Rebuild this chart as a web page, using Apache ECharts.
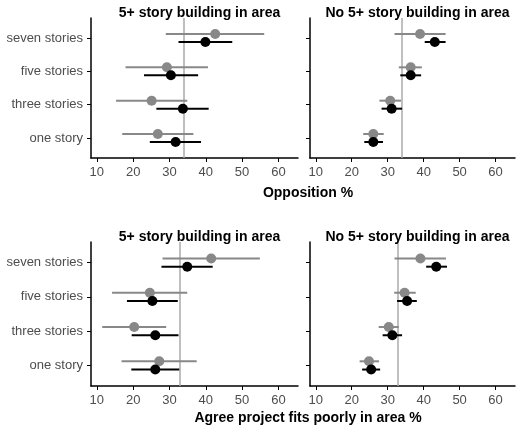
<!DOCTYPE html>
<html><head><meta charset="utf-8">
<script src="https://cdn.jsdelivr.net/npm/echarts@6/dist/echarts.min.js"></script>
<style>body{margin:0}#c{width:520px;height:425px}</style></head>
<body><div id="c"></div>
<script>
const categories = ['one story','three stories','five stories','seven stories'];
const xTicks = [10,20,30,40,50,60];
const panelTitles = ['5+ story building in area','No 5+ story building in area'];
const axisNames = ['Opposition %','Agree project fits poorly in area %'];
// [estimate, low, high] per category (one, three, five, seven)
const oppTallGray  = [[26.8,17.0,36.6],[25.1,15.3,34.9],[29.3,17.9,40.6],[42.6,29.0,56.1]];
const oppTallBlack = [[31.7,24.6,38.7],[33.7,26.4,40.8],[30.4,23.0,37.9],[39.9,32.5,47.3]];
const oppNoGray    = [[26.0,23.2,28.9],[30.7,27.7,33.7],[36.4,33.1,39.5],[39.0,31.9,46.1]];
const oppNoBlack   = [[26.0,23.5,28.7],[31.1,28.3,34.0],[36.4,33.5,39.3],[43.1,40.3,46.1]];
const fitTallGray  = [[27.2,16.8,37.5],[20.3,11.5,29.1],[24.6,14.2,34.9],[41.5,28.1,54.9]];
const fitTallBlack = [[26.1,19.5,32.7],[26.1,19.6,32.5],[25.3,18.3,32.3],[34.9,27.8,41.9]];
const fitNoGray    = [[24.8,22.2,27.6],[30.3,27.5,33.1],[34.7,31.8,37.8],[39.1,31.9,46.2]];
const fitNoBlack   = [[25.4,22.9,27.9],[31.3,28.6,34.0],[35.4,32.6,38.1],[43.5,40.7,46.5]];
const refLines = [34.0, 32.8];

const panels = [
  {g:oppTallGray,b:oppTallBlack,ref:refLines[0],left:91,w:207,top:18,h:140,lab:true},
  {g:oppNoGray,b:oppNoBlack,ref:refLines[0],left:310,w:205,top:18,h:140,lab:false},
  {g:fitTallGray,b:fitTallBlack,ref:refLines[1],left:91,w:207,top:242,h:144,lab:true},
  {g:fitNoGray,b:fitNoBlack,ref:refLines[1],left:310,w:205,top:242,h:144,lab:false}
];
const off = 0.12;
const grid=[],xAxis=[],yAxis=[],series=[];
const axisLine={lineStyle:{color:'#000',width:1.5}};
panels.forEach((p,i)=>{
  grid.push({left:p.left,top:p.top,width:p.w,height:p.h});
  xAxis.push({gridIndex:i,type:'value',min:8.4,max:65.4,axisLine:{show:true,...axisLine},
    axisTick:{show:true,customValues:xTicks,length:4,lineStyle:{color:'#000'}},
    axisLabel:{customValues:xTicks,color:'#4d4d4d',fontSize:13,fontFamily:'Liberation Sans'},splitLine:{show:false}});
  yAxis.push({gridIndex:i,type:'value',min:0.4,max:4.6,axisLine:{show:true,...axisLine},
    axisTick:{show:true,customValues:[1,2,3,4],length:4,lineStyle:{color:'#000'}},
    axisLabel:{show:p.lab,customValues:[1,2,3,4],color:'#4d4d4d',fontSize:13,fontFamily:'Liberation Sans',
      formatter:v=>categories[Math.round(v)-1]},splitLine:{show:false}});
  [[p.g,'#888888',off],[p.b,'#000000',-off]].forEach(([d,col,o],k)=>{
    const data=d.map((r,j)=>[r[0],j+1+o,r[1],r[2]]);
    series.push({type:'custom',xAxisIndex:i,yAxisIndex:i,data:data,z:3,
      renderItem:(params,api)=>{
        const a=api.coord([api.value(2),api.value(1)]),b=api.coord([api.value(3),api.value(1)]);
        return {type:'line',shape:{x1:a[0],y1:a[1],x2:b[0],y2:b[1]},style:{stroke:col,lineWidth:2}};
      }});
    const s={type:'scatter',xAxisIndex:i,yAxisIndex:i,data:data.map(r=>[r[0],r[1]]),symbolSize:10,
      itemStyle:{color:col,opacity:1},z:4};
    if(k===0) s.markLine={silent:true,symbol:'none',label:{show:false},z:1,
      lineStyle:{color:'#aaaaaa',width:1.5,type:'solid'},data:[{xAxis:p.ref}]};
    series.push(s);
  });
});
const title=[];
[[91,207,1],[310,205,1],[91,207,225],[310,205,225]].forEach((t,i)=>{
  title.push({text:panelTitles[i%2],left:t[0]+t[1]/2,top:t[2],textAlign:'center',
    textStyle:{fontSize:14,fontWeight:'bold',color:'#000',fontFamily:'Liberation Sans'}});
});
title.push({text:axisNames[0],left:303,top:181,textAlign:'center',textStyle:{fontSize:14,fontWeight:'bold',color:'#000',fontFamily:'Liberation Sans'}});
title.push({text:axisNames[1],left:303,top:406,textAlign:'center',textStyle:{fontSize:14,fontWeight:'bold',color:'#000',fontFamily:'Liberation Sans'}});
const ch=echarts.init(document.getElementById('c'));
ch.setOption({animation:false,backgroundColor:'#fff',title,grid,xAxis,yAxis,series});
</script></body></html>
